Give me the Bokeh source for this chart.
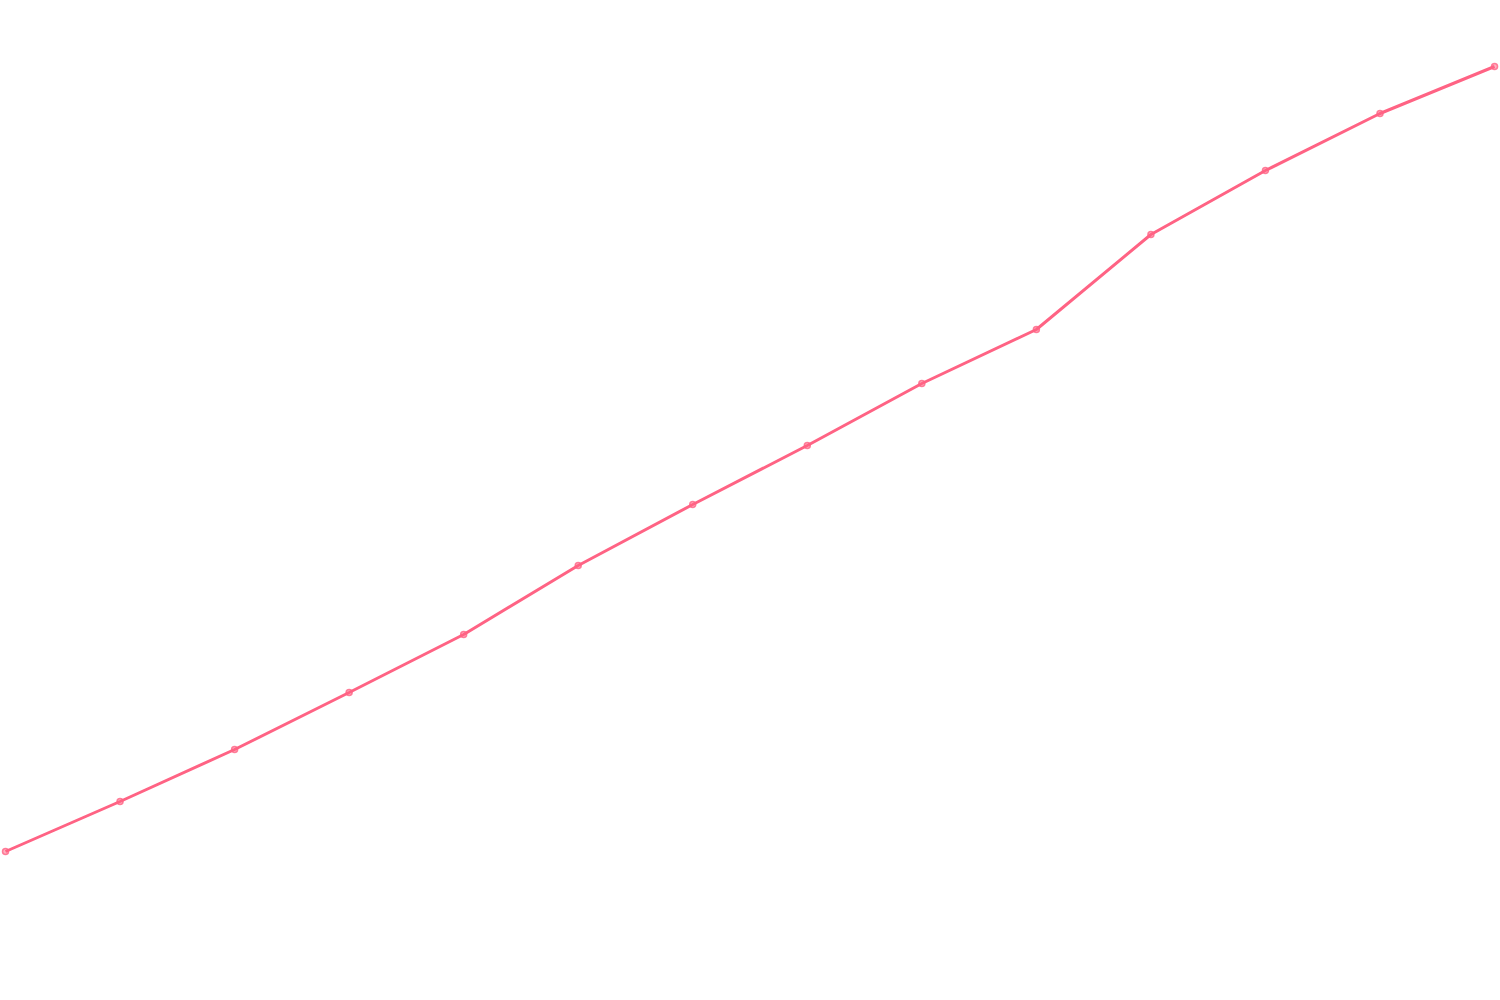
from bokeh.plotting import figure
from bokeh.models import Range1d
from bokeh.embed import file_html
from bokeh.resources import INLINE

labels = list(range(14))
values = [149, 199, 251, 308, 366, 435, 496, 555, 617, 671, 766, 830, 887, 934]

p = figure(width=1500, height=1000, output_backend="svg", toolbar_location=None,
           x_range=Range1d(-0.0437, 13.052), y_range=Range1d(0, 1000),
           min_border=0, min_border_left=0, min_border_right=0,
           min_border_top=0, min_border_bottom=0)
p.axis.visible = False
p.grid.visible = False
p.outline_line_color = None
p.background_fill_color = "white"
p.border_fill_color = "white"

color = "#FF6384"
p.line(labels, values, line_color=color, line_width=3)
p.scatter(labels, values, size=6, line_color=color, line_width=1.5,
          fill_color=color, fill_alpha=0.5, line_alpha=0.8)

open("out.html", "w").write(file_html(p, INLINE))
